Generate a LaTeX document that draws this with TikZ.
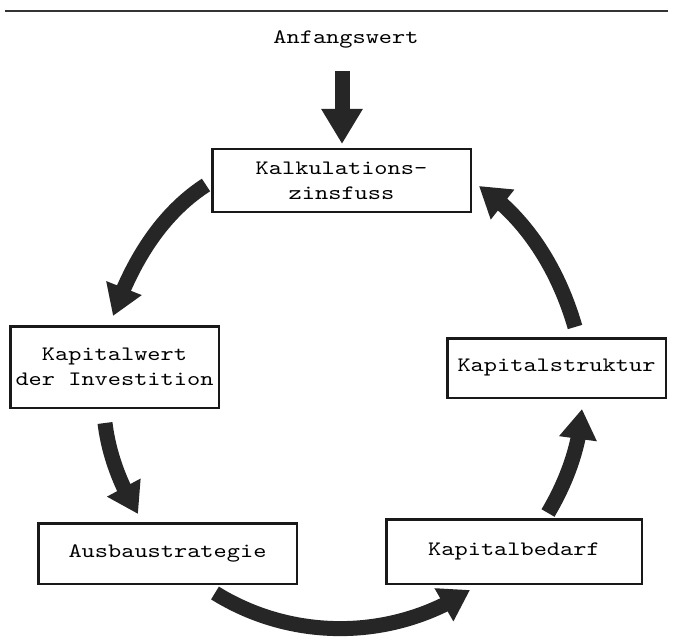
\documentclass[tikz,border=0pt]{standalone}
\usepackage{fontspec}
\setmonofont{lmmono10-regular.otf}[FakeStretch=1.226]
\usetikzlibrary{arrows.meta,bending,calc}
\begin{document}
\begin{tikzpicture}[x=1pt,y=-1pt,
  txt/.style={font=\ttfamily\fontsize{20.5}{25}\selectfont},
  box/.style={txt, draw=black!90, line width=2.5pt, inner sep=0pt, align=center},
  flow/.style={draw=black!85, line width=15pt, line cap=butt,
    -{Triangle[length=30pt,width=36pt,flex]}},
  inflow/.style={draw=black!85, line width=15pt, line cap=butt,
    -{Triangle[length=35pt,width=39pt]}},
  rule/.style={draw=black!80, line width=1.6pt}]
\useasboundingbox[fill=white] (0,0) rectangle (673,642);

% top rule
\coordinate (r1) at (5,11);
\coordinate (r2) at (668,11);
\draw[rule] (r1) -- (r2);

% nodes
\node[txt, inner sep=0pt, anchor=base] (anf) at (346,44) {Anfangswert};
\node[box, minimum width=258.5pt, minimum height=62.5pt] (k) at (341.5,180.5) {Kalkulations-\\zinsfuss};
\node[box, minimum width=208.5pt, minimum height=81.5pt] (kw) at (114.5,367) {Kapitalwert\\der Investition};
\node[box, minimum width=218.5pt, minimum height=59.5pt] (ks) at (556.5,368) {Kapitalstruktur};
\node[box, minimum width=258.5pt, minimum height=60.5pt] (a) at (167.5,553.5) {Ausbaustrategie};
\node[box, minimum width=255.5pt, minimum height=64.5pt] (kb) at (514,551.5) {Kapitalbedarf};

% connector end points
\coordinate (a0s) at ($(k.north)+(0.5,-77)$);
\coordinate (a0e) at ($(k.north)+(0.5,-4)$);
\coordinate (a1s) at ($(k.west)+(-5,4.5)$);
\coordinate (a1e) at ($(kw.north)+(-1.5,-9)$);
\coordinate (a2s) at ($(kw.south)+(-9.5,14)$);
\coordinate (a2e) at ($(a.north)+(-29.5,-8)$);
\coordinate (a3s) at ($(a.south)+(47.5,8)$);
\coordinate (a3e) at ($(kb.south)+(-44,5)$);
\coordinate (a4s) at ($(kb.north)+(34,-5)$);
\coordinate (a4e) at ($(ks.south)+(25.5,10)$);
\coordinate (a5s) at ($(ks.north)+(18.5,-10)$);
\coordinate (a5e) at ($(k.east)+(7,5.5)$);

% connectors
\draw[inflow] (a0s) -- (a0e);
\draw[flow] (a1s) .. controls (160,214.7) and (131.1,264.3) .. (a1e);
\draw[flow] (a2s) .. controls (108.8,455) and (121,486.5) .. (a2e);
\draw[flow] (a3s) .. controls (292.9,641.5) and (393.3,640.4) .. (a3e);
\draw[flow] (a4s) .. controls (566.7,481.4) and (580,445.6) .. (a4e);
\draw[flow] (a5s) .. controls (558.8,271) and (527.5,218.7) .. (a5e);
\end{tikzpicture}
\end{document}
